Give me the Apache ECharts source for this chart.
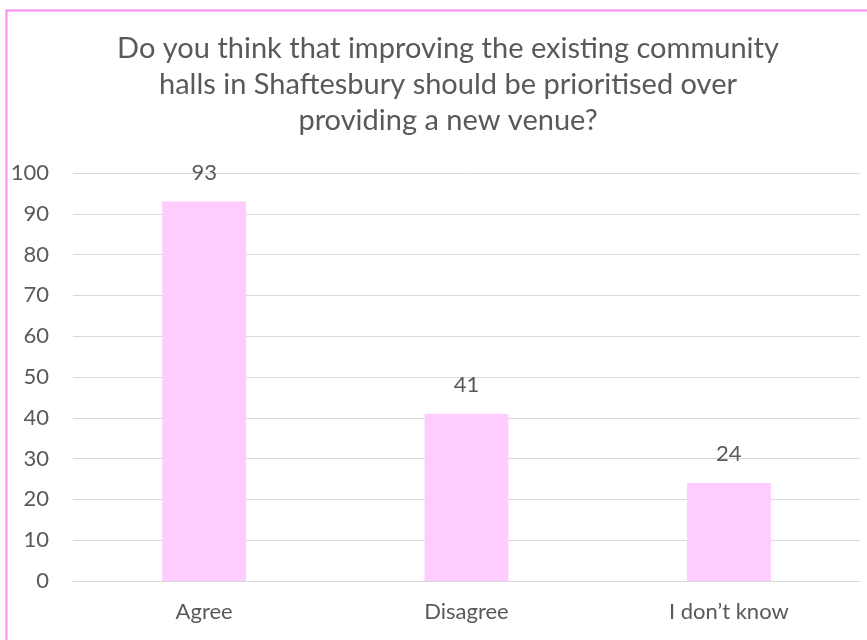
<!DOCTYPE html>
<html>
<head>
<meta charset="utf-8">
<script src="https://cdn.jsdelivr.net/npm/echarts@6/dist/echarts.min.js"></script>
<style>
  html, body { margin: 0; padding: 0; background: #fff; }
  #chart { width: 867px; height: 640px; }
</style>
</head>
<body>
<div id="chart"></div>
<script>
// Survey responses: community halls vs new venue
const titleText = 'Do you think that improving the existing community\nhalls in Shaftesbury should be prioritised over\nproviding a new venue?';
const categories = ['Agree', 'Disagree', 'I don\u2019t know'];
const responses = [93, 41, 24];
const yMin = 0;
const yMax = 100;
const yStep = 10;

const textColor = '#595959';
const fontFamily = 'Lato, "Open Sans", sans-serif';

const chart = echarts.init(document.getElementById('chart'));
chart.setOption({
  animation: false,
  backgroundColor: '#ffffff',
  textStyle: { fontFamily: fontFamily },
  title: {
    text: titleText,
    left: 443,
    top: 26,
    textAlign: 'center',
    textStyle: {
      color: textColor,
      fontSize: 29,
      fontWeight: 'normal',
      lineHeight: 36,
      fontFamily: fontFamily
    }
  },
  graphic: [
    {
      type: 'polyline',
      silent: true,
      shape: { points: [[6.5, 640], [6.5, 10.5], [867, 10.5]] },
      style: { stroke: '#F78DF0', lineWidth: 2, fill: null }
    }
  ],
  grid: { left: 73, right: 7, top: 173, bottom: 59, containLabel: false },
  xAxis: {
    type: 'category',
    data: categories,
    axisLine: { show: true, lineStyle: { color: '#D9D9D9', width: 1 } },
    axisTick: { show: false },
    axisLabel: { color: textColor, fontSize: 22, margin: 20, fontFamily: fontFamily }
  },
  yAxis: {
    type: 'value',
    min: yMin,
    max: yMax,
    interval: yStep,
    axisLine: { show: false },
    axisTick: { show: false },
    splitLine: { lineStyle: { color: '#D9D9D9', width: 1 } },
    axisLabel: { color: textColor, fontSize: 22, margin: 24, fontFamily: fontFamily }
  },
  series: [
    {
      type: 'bar',
      data: responses,
      barWidth: '32%',
      itemStyle: { color: '#FFCCFF' },
      label: {
        show: true,
        position: 'top',
        distance: 18,
        color: textColor,
        fontSize: 22,
        fontFamily: fontFamily
      }
    }
  ]
});
</script>
</body>
</html>
